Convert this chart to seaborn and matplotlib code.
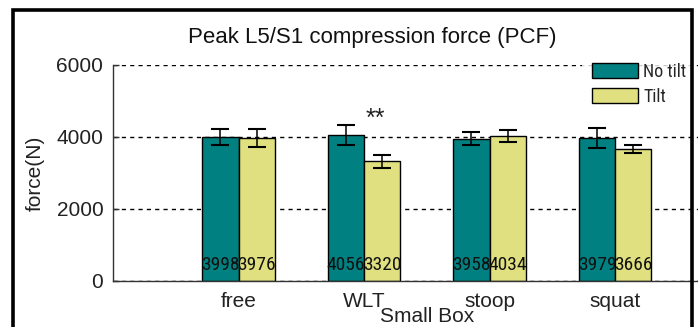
import matplotlib
matplotlib.use("Agg")
import matplotlib.pyplot as plt
import seaborn as sns
import pandas as pd
import numpy as np
from matplotlib import font_manager
from matplotlib.lines import Line2D
from matplotlib.patches import Patch

# ---- data ----
tasks = ["free", "WLT", "stoop", "squat"]
conditions = ["No tilt", "Tilt"]
no_tilt = [3998, 4056, 3958, 3979]
tilt = [3976, 3320, 4034, 3666]
no_tilt_err = [215, 270, 168, 280]
tilt_err = [245, 187, 173, 108]
yticks = [0, 2000, 4000, 6000]
title = "Peak L5/S1 compression force (PCF)"
xlabel = "Small Box"
ylabel = "force(N)"
sig_label = "**"

colors = ["#008080", "#E0E080"]

sns.set_theme(style="white")
names = {f.name for f in font_manager.fontManager.ttflist}
REG = "Liberation Sans" if "Liberation Sans" in names else "DejaVu Sans"
narrow_pref = ["Liberation Sans Narrow", "Arial Narrow", "Roboto Condensed",
               "Open Sans Condensed", "Noto Sans Condensed"]
NARROW = next((n for n in narrow_pref if n in names), None)
if NARROW is None:
    NARROW = next((n for n in sorted(names) if "Narrow" in n or "Condensed" in n), None)
if NARROW is None:
    NARROW, val_size, leg_size = REG, 12, 11
else:
    val_size, leg_size = 14, 13
plt.rcParams["font.family"] = [REG, "DejaVu Sans"]

df = pd.DataFrame({
    "task": tasks * 2,
    "cond": [conditions[0]] * 4 + [conditions[1]] * 4,
    "force": no_tilt + tilt,
})

W, H = 698, 327
fig = plt.figure(figsize=(W / 100, H / 100), dpi=100)
ax = fig.add_axes([113 / W, 46 / H, 627.5 / W, 216 / H])

sns.barplot(data=df, x="task", y="force", hue="cond", order=tasks,
            hue_order=conditions, palette=colors, width=0.574,
            edgecolor="black", linewidth=1, errorbar=None, saturation=1,
            legend=False, ax=ax, zorder=2)

errs = [no_tilt_err, tilt_err]
vals = [no_tilt, tilt]
for cont, err, vv in zip(ax.containers, errs, vals):
    xs = [p.get_x() + p.get_width() / 2 for p in cont.patches]
    ax.errorbar(xs, vv, yerr=err, fmt="none", ecolor="black",
                elinewidth=1.1, capsize=6.5, capthick=1.5, zorder=3)
    for x, v in zip(xs, vv):
        ax.annotate(str(v), (x, 0), xytext=(0, 5), textcoords="offset points",
                    ha="center", va="bottom", fontsize=val_size, family=NARROW,
                    color="#111111", zorder=4)

ax.text(1.09, 4300, sig_label, ha="center", va="baseline", fontsize=18,
        color="#222222", zorder=4)

ax.set_xlim(-1, 4)
ax.set_ylim(0, 6000)
ax.set_yticks(yticks)
ax.set_yticklabels([str(v) for v in yticks])
ax.yaxis.grid(True, linestyle=(0, (3, 3)), color="black", linewidth=1)
ax.xaxis.grid(False)
ax.set_axisbelow(True)
for s in ["top", "right"]:
    ax.spines[s].set_visible(False)
for s in ["left", "bottom"]:
    ax.spines[s].set_color("#333333")
    ax.spines[s].set_linewidth(1)
ax.tick_params(axis="y", direction="in", length=4, width=1, colors="#333333",
               labelsize=15, pad=7, labelcolor="#222222", left=True)
ax.tick_params(axis="x", length=0, labelsize=15, pad=8, labelcolor="#222222")
ax.set_xlabel(xlabel, fontsize=15, color="#222222", va="top")
ax.xaxis.set_label_coords(0.5, -(307 - 281) / 216)
ax.set_ylabel("")

fig.text(35 / W, 1 - 173 / H, ylabel, rotation=90, ha="center", va="center",
         fontsize=15, color="#222222")
fig.text(372 / W, 1 - 37 / H, title, ha="center", va="center", fontsize=16,
         color="#111111")

handles = [Patch(facecolor=c, edgecolor="black", linewidth=1) for c in colors]
leg = ax.legend(handles, conditions, loc="upper left",
                bbox_to_anchor=(582 / W, 1 - 53 / H),
                bbox_transform=fig.transFigure, borderaxespad=0,
                prop={"family": NARROW, "size": leg_size},
                handlelength=46 / (leg_size * 100 / 72),
                handleheight=17 / (leg_size * 100 / 72),
                labelspacing=0.38, handletextpad=0.28,
                borderpad=0.55, frameon=True, fancybox=False)
leg.get_frame().set_facecolor("white")
leg.get_frame().set_edgecolor("none")
leg.set_zorder(5)

# outer screenshot border (left, top, right)
bx0, bx1, by = 12.5 / W, 691.5 / W, 1 - 10 / H
fig.add_artist(Line2D([bx0, bx0, bx1, bx1], [0.0, by, by, 0.0],
                      transform=fig.transFigure, color="black", linewidth=2.6,
                      solid_joinstyle="miter", solid_capstyle="butt",
                      zorder=10))

fig.savefig("out.png", dpi=100)
